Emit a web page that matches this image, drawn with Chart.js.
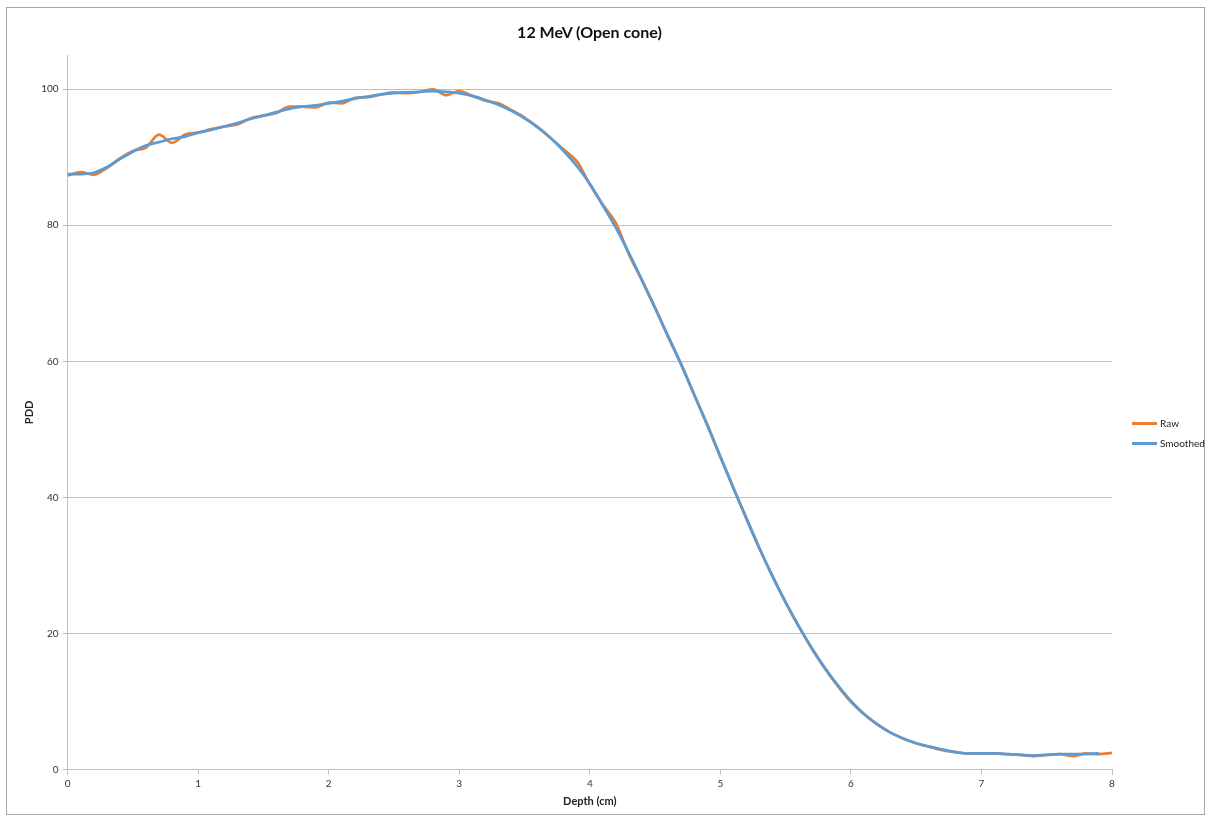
<!DOCTYPE html>
<html>
<head>
<meta charset="utf-8">
<script src="https://cdn.jsdelivr.net/npm/chart.js@4/dist/chart.umd.min.js"></script>
<style>
  html, body { margin: 0; padding: 0; background: #fff; }
  body { width: 1207px; height: 818px; position: relative; overflow: hidden; font-family: Lato, "Open Sans", sans-serif; }
  #frame { position: absolute; left: 6px; top: 7px; width: 1197px; height: 806px; border: 1px solid #a6a6a6; }
  #wrap { position: absolute; left: 0; top: 0; width: 1197px; height: 806px; }
  #title { position: absolute; left: 0; width: 1165px; top: 14px; text-align: center; font-weight: bold; font-size: 16px; color: #111; }
  .leg { position: absolute; left: 1125px; font-size: 10px; color: #222; height: 14px; line-height: 14px; white-space: nowrap; }
  .leg span.sw { display: inline-block; width: 25px; height: 2.5px; vertical-align: middle; margin-right: 3px; position: relative; top: -1px; }
</style>
</head>
<body>
<div id="frame">
  <div id="wrap"><canvas id="c" width="1197" height="806"></canvas></div>
  <div id="title">12 MeV (Open cone)</div>
  <div class="leg" style="top:408px"><span class="sw" style="background:#ED7D31"></span>Raw</div>
  <div class="leg" style="top:428px"><span class="sw" style="background:#5B9BD5"></span>Smoothed</div>
</div>
<script>
const depthRaw = [0.0,0.1,0.2,0.3,0.4,0.5,0.6,0.7,0.8,0.9,1.0,1.1,1.2,1.3,1.4,1.5,1.6,1.7,1.8,1.9,2.0,2.1,2.2,2.3,2.4,2.5,2.6,2.7,2.8,2.9,3.0,3.1,3.2,3.3,3.4,3.5,3.6,3.7,3.8,3.9,4.0,4.1,4.2,4.3,4.4,4.5,4.6,4.7,4.8,4.9,5.0,5.1,5.2,5.3,5.4,5.5,5.6,5.7,5.8,5.9,6.0,6.1,6.2,6.3,6.4,6.5,6.6,6.7,6.8,6.9,7.0,7.1,7.2,7.3,7.4,7.5,7.6,7.7,7.8,7.9,8.0];
const rawPDD = [87.3,87.8,87.4,88.4,89.8,90.9,91.4,93.3,92.1,93.3,93.6,94.1,94.5,94.8,95.7,96.1,96.5,97.4,97.4,97.3,98.0,97.9,98.7,98.8,99.2,99.5,99.4,99.6,99.95,99.1,99.7,99.0,98.3,97.9,96.9,95.8,94.4,92.8,91.1,89.4,86.0,83.0,80.3,75.7,71.9,67.9,63.6,59.6,55.1,50.7,46.0,41.4,36.9,32.5,28.4,24.6,21.1,17.8,14.9,12.3,10.0,8.2,6.7,5.5,4.6,3.9,3.4,2.9,2.6,2.4,2.4,2.4,2.3,2.2,2.0,2.2,2.3,2.0,2.4,2.3,2.5];
const depthSmooth = [0.0,0.1,0.2,0.3,0.4,0.5,0.6,0.7,0.8,0.9,1.0,1.1,1.2,1.3,1.4,1.5,1.6,1.7,1.8,1.9,2.0,2.1,2.2,2.3,2.4,2.5,2.6,2.7,2.8,2.9,3.0,3.1,3.2,3.3,3.4,3.5,3.6,3.7,3.8,3.9,4.0,4.1,4.2,4.3,4.4,4.5,4.6,4.7,4.8,4.9,5.0,5.1,5.2,5.3,5.4,5.5,5.6,5.7,5.8,5.9,6.0,6.1,6.2,6.3,6.4,6.5,6.6,6.7,6.8,6.9,7.0,7.1,7.2,7.3,7.4,7.5,7.6,7.7,7.8,7.9];
const smoothPDD = [87.5,87.5,87.7,88.5,89.7,90.8,91.7,92.2,92.7,93.0,93.6,94.0,94.5,95.0,95.6,96.1,96.6,97.1,97.4,97.6,97.9,98.2,98.6,98.9,99.2,99.4,99.5,99.6,99.7,99.6,99.4,99.0,98.4,97.7,96.8,95.7,94.4,92.8,90.9,88.7,86.1,82.9,79.6,75.9,71.9,67.8,63.7,59.5,55.1,50.6,46.0,41.4,36.9,32.5,28.4,24.6,21.1,17.9,15.0,12.4,10.1,8.2,6.7,5.5,4.6,3.9,3.4,3.0,2.6,2.4,2.4,2.4,2.3,2.2,2.1,2.2,2.3,2.3,2.3,2.4];
const xTicks = [0,1,2,3,4,5,6,7,8];
const yTicks = [0,20,40,60,80,100];

const pts = (xs, ys) => xs.map((x, i) => ({x: x, y: ys[i]}));
const FONT = 'Lato, "Open Sans", sans-serif';
const gridC = '#bfbfbf';

new Chart(document.getElementById('c'), {
  type: 'line',
  data: {
    datasets: [
      { label: 'Raw', data: pts(depthRaw, rawPDD), borderColor: '#ED7D31', backgroundColor: '#ED7D31', borderWidth: 2.75, pointRadius: 0, cubicInterpolationMode: 'monotone', fill: false, order: 2 },
      { label: 'Smoothed', data: pts(depthSmooth, smoothPDD), borderColor: '#5B9BD5', backgroundColor: '#5B9BD5', borderWidth: 2.75, pointRadius: 0, cubicInterpolationMode: 'monotone', fill: false, order: 1 }
    ]
  },
  options: {
    responsive: false,
    animation: false,
    events: [],
    layout: { padding: { left: 16, right: 92, top: 47, bottom: 6 } },
    plugins: { legend: { display: false }, title: { display: false }, tooltip: { enabled: false } },
    scales: {
      x: {
        type: 'linear', min: 0, max: 8,
        afterBuildTicks: s => { s.ticks = xTicks.map(v => ({value: v})); },
        grid: { drawOnChartArea: false, drawTicks: true, tickLength: 5, color: gridC },
        border: { color: gridC, width: 1 },
        ticks: { font: { family: FONT, size: 10 }, color: '#333', padding: 3, maxRotation: 0 },
        title: { display: true, text: 'Depth (cm)', font: { family: FONT, size: 11, weight: 'bold' }, color: '#222', padding: { top: 2, bottom: 0 } }
      },
      y: {
        type: 'linear', min: 0, max: 105,
        afterBuildTicks: s => { s.ticks = yTicks.map(v => ({value: v})); },
        grid: { drawOnChartArea: true, drawTicks: true, tickLength: 5, color: gridC, lineWidth: 1 },
        border: { color: gridC, width: 1 },
        ticks: { font: { family: FONT, size: 10 }, color: '#333', padding: 4 },
        title: { display: true, text: 'PDD', font: { family: FONT, size: 11, weight: 'bold' }, color: '#222', padding: { top: 0, bottom: 1 } }
      }
    }
  }
});
</script>
</body>
</html>
